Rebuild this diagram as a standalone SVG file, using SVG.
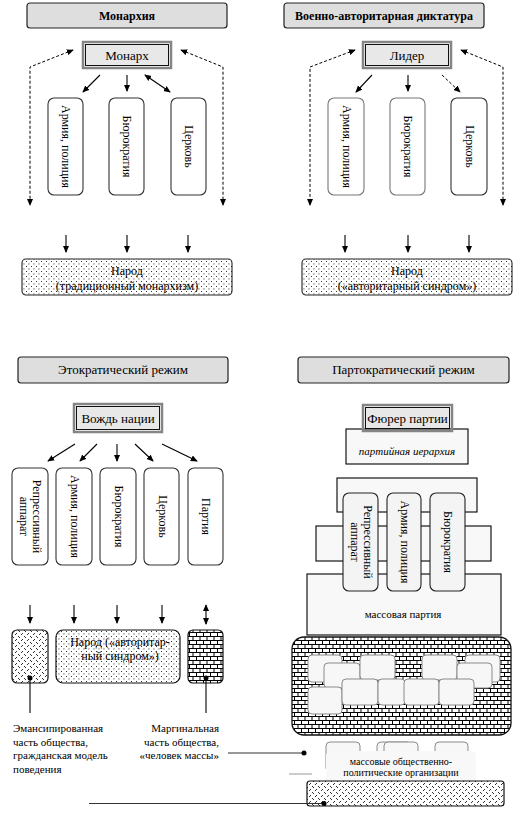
<svg xmlns="http://www.w3.org/2000/svg" width="529" height="813" viewBox="0 0 529 813" font-family="'Liberation Serif', 'Times New Roman', serif">
<defs>
<style>
text{font-family:"Liberation Serif","Times New Roman",serif;fill:#000}
.title{fill:#dedede;stroke:#222;stroke-width:1.2}
.tt{font-size:12px;font-weight:bold;text-anchor:middle}
.tt2{font-size:13px;text-anchor:middle}
.lead-o{fill:none;stroke:#858585;stroke-width:2.5}
.lead-i{fill:#e8e8e8;stroke:#111;stroke-width:1}
.lt{font-size:13px;text-anchor:middle}
.vbox{fill:#fff;stroke:#333;stroke-width:1.1}
.vboxg{fill:#fff;stroke:#777;stroke-width:1.1}
.vt{font-size:12px;text-anchor:middle}
.nt{font-size:12px;text-anchor:middle}
.pyr{fill:#f8f8f8;stroke:#000;stroke-width:1.1}
.pv{fill:#f4f4f4;stroke:#222;stroke-width:1.1}
.cell{fill:#f7f7f7;stroke:#8a8a8a;stroke-width:1}
.sm{font-size:11px}
.c{stroke:#000;stroke-width:1.1;fill:none}
.d{stroke:#000;stroke-width:1;fill:none;stroke-dasharray:3 2}
.a{marker-end:url(#ah)}
.aa{marker-start:url(#ah);marker-end:url(#ah)}
</style>
<marker id="ah" viewBox="0 0 8 8" refX="7" refY="4" markerWidth="7" markerHeight="7" markerUnits="userSpaceOnUse" orient="auto-start-reverse">
<path d="M0,0.5 L8,4 L0,7.5 z" fill="#000"/>
</marker>
<pattern id="dots" width="5" height="5" patternUnits="userSpaceOnUse">
<rect width="5" height="5" fill="#fff"/>
<rect x="1" y="1" width="0.9" height="0.9" fill="#000"/>
<rect x="3.5" y="3.5" width="0.9" height="0.9" fill="#000"/>
</pattern>
<pattern id="zig" width="6" height="6" patternUnits="userSpaceOnUse">
<rect width="6" height="6" fill="#fff"/>
<rect x="0" y="0" width="0.9" height="0.9" fill="#000"/>
<rect x="1" y="1" width="0.9" height="0.9" fill="#000"/>
<rect x="3" y="4" width="0.9" height="0.9" fill="#000"/>
<rect x="4" y="3" width="0.9" height="0.9" fill="#000"/>
</pattern>
<pattern id="brick" width="7" height="8" patternUnits="userSpaceOnUse">
<rect width="7" height="8" fill="#fff"/>
<path d="M0,0.5H7M0,4.5H7M0.5,0V4.5M4,4.5V8" stroke="#000" stroke-width="1" fill="none"/>
</pattern>
</defs>
<rect width="529" height="813" fill="#fff"/>

<!-- ===== Top-left: Монархия ===== -->
<g id="title-monarchy"><rect class="title" x="27" y="3" width="200" height="25" rx="3"/><text class="tt" x="127" y="20">Монархия</text></g>
<g id="monarch"><rect class="lead-o" x="83" y="42" width="88" height="26"/><rect class="lead-i" x="85.5" y="44.5" width="83" height="21"/><text class="lt" x="127" y="60">Монарх</text></g>
<g id="tl-army"><rect class="vbox" x="48" y="98" width="35" height="97" rx="6"/><text class="vt" transform="translate(66,146.5) rotate(90)" y="4">Армия, полиция</text></g>
<g id="tl-bureau"><rect class="vbox" x="109" y="98" width="35" height="97" rx="6"/><text class="vt" transform="translate(127,146.5) rotate(90)" y="4">Бюрократия</text></g>
<g id="tl-church"><rect class="vbox" x="171" y="98" width="35" height="97" rx="6"/><text class="vt" transform="translate(189,146.5) rotate(90)" y="4">Церковь</text></g>
<g id="tl-people"><rect x="22" y="259" width="210" height="36" rx="4" fill="url(#dots)" stroke="#222" stroke-width="1.1"/><text class="nt" x="127" y="275">Народ</text><text class="nt" x="127" y="290">(традиционный монархизм)</text></g>

<!-- ===== Top-right: Военно-авторитарная диктатура ===== -->
<g id="title-military"><rect class="title" x="284" y="3" width="200" height="25" rx="3"/><text class="tt" x="384" y="20">Военно-авторитарная диктатура</text></g>
<g id="leader"><rect class="lead-o" x="363" y="42" width="88" height="26"/><rect class="lead-i" x="365.5" y="44.5" width="83" height="21"/><text class="lt" x="407" y="60">Лидер</text></g>
<g id="tr-army"><rect class="vboxg" x="328" y="98" width="36" height="97" rx="6"/><text class="vt" transform="translate(347,146.5) rotate(90)" y="4">Армия, полиция</text></g>
<g id="tr-bureau"><rect class="vboxg" x="390" y="98" width="35" height="97" rx="6"/><text class="vt" transform="translate(408,146.5) rotate(90)" y="4">Бюрократия</text></g>
<g id="tr-church"><rect class="vbox" x="451" y="98" width="36" height="97" rx="6"/><text class="vt" transform="translate(470,146.5) rotate(90)" y="4">Церковь</text></g>
<g id="tr-people"><rect x="302" y="259" width="210" height="36" rx="4" fill="url(#dots)" stroke="#222" stroke-width="1.1"/><text class="nt" x="407" y="275">Народ</text><text class="nt" x="407" y="290">(«авторитарный синдром»)</text></g>

<!-- ===== Bottom-left: Этократический режим ===== -->
<g id="title-ethno"><rect class="title" x="18" y="357" width="210" height="26" rx="3"/><text class="tt2" x="123" y="374">Этократический режим</text></g>
<g id="vozhd"><rect class="lead-o" x="74" y="404" width="88" height="28"/><rect class="lead-i" x="76.5" y="406.5" width="83" height="23"/><text class="lt" x="118" y="423">Вождь нации</text></g>
<g id="bl-repr"><rect class="vbox" x="12" y="468" width="36" height="97" rx="6"/><text class="vt" transform="translate(30,516.5) rotate(90)"><tspan x="0" y="-3">Репрессивный</tspan><tspan x="0" y="10">аппарат</tspan></text></g>
<g id="bl-army"><rect class="vbox" x="56" y="468" width="36" height="97" rx="6"/><text class="vt" transform="translate(75,516.5) rotate(90)" y="4">Армия, полиция</text></g>
<g id="bl-bureau"><rect class="vbox" x="100" y="468" width="36" height="97" rx="6"/><text class="vt" transform="translate(119,516.5) rotate(90)" y="4">Бюрократия</text></g>
<g id="bl-church"><rect class="vbox" x="144" y="468" width="35" height="97" rx="6"/><text class="vt" transform="translate(163,516.5) rotate(90)" y="4">Церковь</text></g>
<g id="bl-party"><rect class="vbox" x="188" y="468" width="35" height="97" rx="6"/><text class="vt" transform="translate(206,516.5) rotate(90)" y="4">Партия</text></g>
<g id="bl-emanc"><rect x="12" y="630" width="36" height="53" rx="5" fill="url(#zig)" stroke="#111" stroke-width="1.2"/></g>
<g id="bl-people"><rect x="56" y="630" width="124" height="53" rx="7" fill="url(#dots)" stroke="#111" stroke-width="1.2"/><text class="nt" x="120" y="646">Народ («авторитар-</text><text class="nt" x="120" y="660">ный синдром»)</text></g>
<g id="bl-marg"><rect x="188" y="630" width="35" height="53" rx="5" fill="url(#brick)" stroke="#111" stroke-width="1.2"/></g>
<g id="bl-emanc-label"><text class="sm" x="13" y="732">Эмансипированная</text><text class="sm" x="13" y="745.5">часть общества,</text><text class="sm" x="13" y="759">гражданская модель</text><text class="sm" x="13" y="772.5">поведения</text></g>
<g id="bl-marg-label"><text class="sm" x="219" y="732" text-anchor="end">Маргинальная</text><text class="sm" x="219" y="745.5" text-anchor="end">часть общества,</text><text class="sm" x="219" y="759" text-anchor="end">«человек массы»</text></g>

<!-- ===== Bottom-right: Партократический режим ===== -->
<g id="title-party"><rect class="title" x="298" y="357" width="211" height="26" rx="3"/><text class="tt2" x="403.5" y="374">Партократический режим</text></g>
<g id="pyr-level1"><rect class="pyr" x="337" y="478" width="140" height="34"/></g>
<g id="pyr-level2"><rect class="pyr" x="316" y="526" width="175" height="35"/></g>
<g id="mass-party"><rect class="pyr" x="307" y="574" width="194" height="61"/><text class="sm" x="403" y="618" text-anchor="middle" font-size="10.5">массовая партия</text></g>
<g id="br-repr"><rect class="pv" x="343" y="493" width="35" height="98" rx="6"/><text class="vt" transform="translate(361,542) rotate(90)"><tspan x="0" y="-3">Репрессивный</tspan><tspan x="0" y="10">аппарат</tspan></text></g>
<g id="br-army"><rect class="pv" x="387" y="493" width="34" height="98" rx="6"/><text class="vt" transform="translate(405,542) rotate(90)" y="4">Армия, полиция</text></g>
<g id="br-bureau"><rect class="pv" x="430" y="493" width="35" height="98" rx="6"/><text class="vt" transform="translate(448,542) rotate(90)" y="4">Бюрократия</text></g>
<g id="hierarchy"><rect class="pyr" x="346" y="429" width="122" height="35"/><text x="407" y="455" font-size="11" font-style="italic" text-anchor="middle">партийная иерархия</text></g>
<g id="fuehrer"><rect class="lead-o" x="363" y="405" width="89" height="26"/><rect class="lead-i" x="365.5" y="407.5" width="84" height="21"/><text class="lt" x="407.5" y="423">Фюрер партии</text></g>
<g id="marginal-mass"><rect x="292" y="637" width="219" height="98" rx="12" fill="url(#brick)" stroke="#111" stroke-width="1.3"/>
<rect class="cell" x="308" y="655" width="34" height="27" rx="4"/>
<rect class="cell" x="324" y="663" width="36" height="25" rx="4"/>
<rect class="cell" x="360" y="655" width="35" height="25" rx="4"/>
<rect class="cell" x="422" y="655" width="35" height="25" rx="4"/>
<rect class="cell" x="465" y="655" width="35" height="27" rx="4"/>
<rect class="cell" x="457" y="663" width="35" height="25" rx="4"/>
<rect class="cell" x="308" y="687" width="34" height="27" rx="4"/>
<rect class="cell" x="342" y="679" width="36" height="26" rx="4"/>
<rect class="cell" x="378" y="679" width="27" height="26" rx="4"/>
<rect class="cell" x="404" y="679" width="35" height="26" rx="4"/>
<rect class="cell" x="439" y="679" width="35" height="26" rx="4"/>
</g>
<g id="mass-orgs"><rect class="cell" x="326" y="742" width="34" height="30" rx="4"/>
<rect class="cell" x="377" y="742" width="34" height="30" rx="4"/>
<rect class="cell" x="384" y="742" width="34" height="30" rx="4"/>
<rect class="cell" x="435" y="742" width="33" height="30" rx="4"/>
<rect x="326" y="751" width="150" height="36" rx="5" fill="#f8f8f8"/>
<text x="401" y="765" font-size="10" text-anchor="middle">массовые общественно-</text><text x="401" y="776" font-size="10" text-anchor="middle">политические организации</text></g>
<g id="emancipated-part"><rect x="307" y="781" width="197" height="25" rx="3" fill="url(#zig)" stroke="#111" stroke-width="1.2"/></g>

<!-- ===== Connectors ===== -->
<g id="connectors">
<path class="d aa" d="M73,50 L30,67 L30,205"/>
<path class="d aa" d="M181,50 L223,67 L223,205"/>
<path class="c a" d="M100,75 L83,92"/>
<path class="c a" d="M127,75 L127,91"/>
<path class="c aa" d="M145,75 L170,92"/>
<path class="c a" d="M66,235 L66,252"/>
<path class="c a" d="M127,235 L127,252"/>
<path class="c a" d="M188,235 L188,252"/>

<path class="d aa" d="M355,50 L310,67 L310,205"/>
<path class="d aa" d="M461,50 L503,67 L503,205"/>
<path class="c a" d="M372,75 L356,92"/>
<path class="c a" d="M408,75 L408,91"/>
<path class="d a" d="M442,75 L460,92"/>
<path class="c a" d="M345,235 L345,252"/>
<path class="c a" d="M408,235 L408,252"/>
<path class="c a" d="M469,235 L469,252"/>

<path class="c a" d="M75,444 L48,461"/>
<path class="c a" d="M97,444 L80,461"/>
<path class="c a" d="M117,444 L117,461"/>
<path class="c a" d="M135,444 L153,461"/>
<path class="c a" d="M162,444 L197,461"/>
<path class="c a" d="M30,605 L30,623"/>
<path class="c a" d="M74,605 L74,623"/>
<path class="c a" d="M117,605 L117,623"/>
<path class="c a" d="M162,605 L162,623"/>
<path class="c aa" d="M206,605 L206,624"/>

<path class="c" d="M30,678 L30,713"/>
<circle cx="30" cy="678" r="2.5" fill="#000"/>
<path class="c" d="M206,678 L206,713"/>
<circle cx="206" cy="678" r="2.5" fill="#000"/>
<path d="M228,753 L304,753" stroke="#333" stroke-width="1" fill="none"/>
<circle cx="304" cy="753" r="2.5" fill="#000"/>
<path d="M289,774 L312,774" stroke="#999" stroke-width="1" fill="none"/>
<path d="M89,803.5 L324,803.5" stroke="#333" stroke-width="1" fill="none"/>
<circle cx="324" cy="803.5" r="2.5" fill="#000"/>
</g>
</svg>
